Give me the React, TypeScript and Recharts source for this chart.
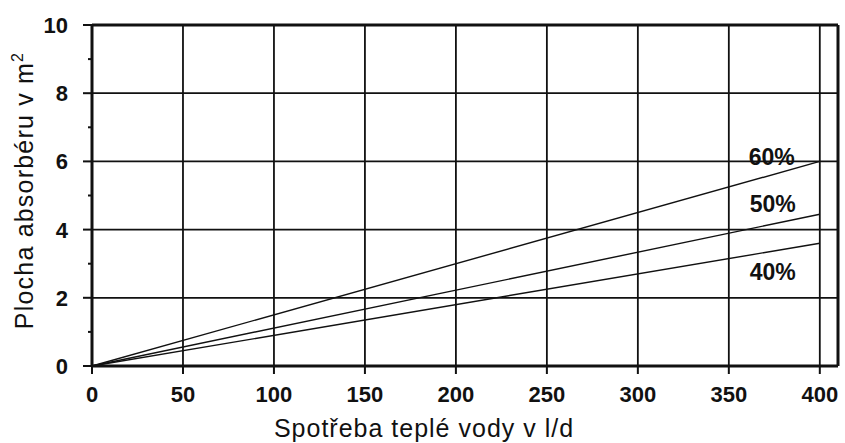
import React from "react";
import {
  LineChart,
  Line,
  XAxis,
  YAxis,
  ReferenceLine,
} from "recharts";

// spotřeba teplé vody (l/d) -> plocha absorbéru (m2)
const consumption = [0, 400];
const area60 = [0, 6.0];
const area50 = [0, 4.45];
const area40 = [0, 3.6];
const seriesNames = ["60%", "50%", "40%"];

const xTicks = [0, 50, 100, 150, 200, 250, 300, 350, 400];
const yTicks = [0, 1, 2, 3, 4, 5, 6, 7, 8, 9, 10];
const gridX = [50, 100, 150, 200, 250, 300, 350, 400];
const gridY = [2, 4, 6, 8];

const data = consumption.map((x, i) => ({
  x,
  p60: area60[i],
  p50: area50[i],
  p40: area40[i],
}));

const FONT = '"Liberation Sans", Arial, sans-serif';
const INK = "#111";

const YTick = (props: any) => {
  const { x, y, payload } = props;
  const major = payload.value % 2 === 0;
  return (
    <g>
      <line x1={x - (major ? 9 : 4)} x2={x} y1={y} y2={y} stroke={INK} strokeWidth={2} />
      {major && (
        <text
          x={x - 24}
          y={y}
          dy="0.36em"
          textAnchor="end"
          fontFamily={FONT}
          fontSize={22}
          fontWeight="bold"
          fill={INK}
        >
          {payload.value}
        </text>
      )}
    </g>
  );
};

const endLabel = (name: string, dx: number, dy: number) => (props: any) => {
  const { x, y, index } = props;
  if (index !== consumption.length - 1) return null;
  return (
    <text
      x={x + dx}
      y={y + dy}
      dy="0.36em"
      textAnchor="middle"
      fontFamily={FONT}
      fontSize={23}
      fontWeight="bold"
      fill={INK}
    >
      {name}
    </text>
  );
};

export default function App() {
  return (
    <div style={{ position: "absolute", left: 0, top: 0, background: "#fff" }}>
      <LineChart
        width={845}
        height={443}
        data={data}
        margin={{ top: 25, right: 7, bottom: 0, left: 0 }}
      >
        <XAxis
          dataKey="x"
          type="number"
          domain={[0, 410]}
          ticks={xTicks}
          interval={0}
          height={77}
          axisLine={{ stroke: INK, strokeWidth: 3 }}
          tickLine={{ stroke: INK, strokeWidth: 2 }}
          tickSize={8}
          tickMargin={12}
          tick={{ fill: INK, fontSize: 22, fontWeight: "bold", fontFamily: FONT }}
          label={{
            content: ({ viewBox }: any) => (
              <text
                x={viewBox.x + viewBox.width / 2 - 41}
                y={viewBox.y + viewBox.height - 6}
                textAnchor="middle"
                fontFamily={FONT}
                fontSize={25}
                letterSpacing={1}
                fill={INK}
              >
                Spotřeba teplé vody v l/d
              </text>
            ),
          }}
        />
        <YAxis
          type="number"
          domain={[0, 10]}
          ticks={yTicks}
          interval={0}
          width={92}
          axisLine={{ stroke: INK, strokeWidth: 3 }}
          tickLine={false}
          tickSize={0}
          tickMargin={0}
          tick={<YTick />}
          label={{
            content: ({ viewBox }: any) => {
              const cx = viewBox.x + 33;
              const cy = viewBox.y + viewBox.height / 2 - 5;
              return (
                <text
                  x={cx}
                  y={cy}
                  transform={`rotate(-90 ${cx} ${cy})`}
                  textAnchor="middle"
                  fontFamily={FONT}
                  fontSize={25}
                  letterSpacing={1.2}
                  fill={INK}
                >
                  Plocha absorbéru v m
                  <tspan dy={-10} fontSize={16}>
                    2
                  </tspan>
                </text>
              );
            },
          }}
        />
        {gridX.map((v) => (
          <ReferenceLine key={`gx-${v}`} x={v} stroke={INK} strokeWidth={1.8} />
        ))}
        {gridY.map((v) => (
          <ReferenceLine key={`gy-${v}`} y={v} stroke={INK} strokeWidth={1.8} />
        ))}
        <ReferenceLine y={10} stroke={INK} strokeWidth={3} />
        <ReferenceLine x={410} stroke={INK} strokeWidth={3} />
        <Line
          dataKey="p60"
          stroke={INK}
          strokeWidth={1.4}
          dot={false}
          isAnimationActive={false}
          label={endLabel(seriesNames[0], -48, -5)}
        />
        <Line
          dataKey="p50"
          stroke={INK}
          strokeWidth={1.4}
          dot={false}
          isAnimationActive={false}
          label={endLabel(seriesNames[1], -47, -11)}
        />
        <Line
          dataKey="p40"
          stroke={INK}
          strokeWidth={1.4}
          dot={false}
          isAnimationActive={false}
          label={endLabel(seriesNames[2], -47, 28)}
        />
      </LineChart>
    </div>
  );
}
